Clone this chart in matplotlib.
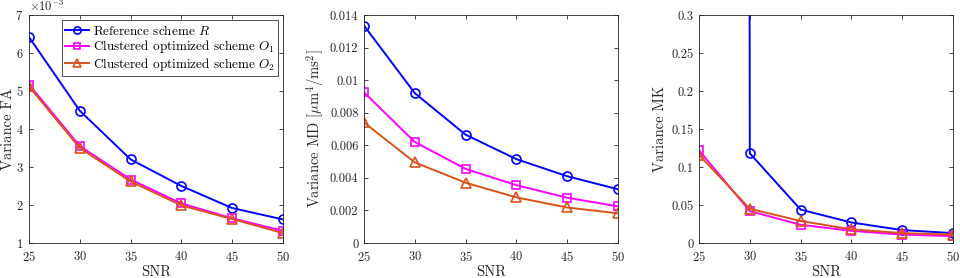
import matplotlib
matplotlib.use("Agg")
import matplotlib.pyplot as plt
from matplotlib.ticker import ScalarFormatter

plt.rcParams['font.family'] = 'serif'
plt.rcParams['font.serif'] = ['cmr10']
plt.rcParams['mathtext.fontset'] = 'cm'
plt.rcParams['axes.formatter.use_mathtext'] = True
plt.rcParams['axes.unicode_minus'] = False

snr = [25, 30, 35, 40, 45, 50]

# variance FA (x 1e-3)
fa_R = [6.42, 4.48, 3.20, 2.50, 1.92, 1.62]
fa_O1 = [5.17, 3.55, 2.67, 2.04, 1.65, 1.32]
fa_O2 = [5.12, 3.50, 2.62, 1.99, 1.63, 1.26]

# variance MD
md_R = [0.01335, 0.0092, 0.00665, 0.00515, 0.0041, 0.0033]
md_O1 = [0.00925, 0.0062, 0.00455, 0.00355, 0.00278, 0.00225]
md_O2 = [0.0074, 0.00495, 0.0037, 0.0028, 0.00218, 0.00182]

# variance MK (first R value far off the chart)
mk_R = [60.0, 0.118, 0.044, 0.027, 0.017, 0.013]
mk_O1 = [0.122, 0.042, 0.024, 0.016, 0.011, 0.009]
mk_O2 = [0.116, 0.045, 0.029, 0.018, 0.013, 0.011]

blue = (0, 0, 1)
mag = (1, 0, 1)
orng = (0.85, 0.325, 0.098)
grey = (0.15, 0.15, 0.15)

fs_tick = 9
fs_lab = 10.5

fig = plt.figure(figsize=(9.6, 2.78), dpi=100)
lefts = [29/960, 364/960, 699/960]
w = 254/960
b = 1 - 243/278
h = (243 - 15)/278
axs = [fig.add_axes([l, b, w, h]) for l in lefts]

def style(ax):
    ax.tick_params(direction='in', top=True, right=True, labelsize=fs_tick,
                   length=3, width=0.6, colors=grey, labelcolor=grey)
    ax.tick_params(axis='x', pad=5)
    ax.tick_params(axis='y', pad=4)
    for s in ax.spines.values():
        s.set_linewidth(0.6)
        s.set_color(grey)
    ax.set_xlim(25, 50)
    ax.set_xticks(snr)
    ax.set_xlabel('SNR', fontsize=fs_lab, labelpad=1, color=grey)

def draw(ax, r, o1, o2):
    ax.plot(snr, r, '-o', color=blue, lw=1.4, ms=6.5, mfc='none', mew=1.2,
            label=r'Reference scheme $R$')
    ax.plot(snr, o1, '-s', color=mag, lw=1.4, ms=5.5, mfc='none', mew=1.2,
            label=r'Clustered optimized scheme $O_1$')
    ax.plot(snr, o2, '-^', color=orng, lw=1.4, ms=6.5, mfc='none', mew=1.2,
            label=r'Clustered optimized scheme $O_2$')

ax = axs[0]
draw(ax, [v*1e-3 for v in fa_R], [v*1e-3 for v in fa_O1], [v*1e-3 for v in fa_O2])
style(ax)
ax.set_ylim(1e-3, 7e-3)
fmt = ScalarFormatter(useMathText=True)
fmt.set_powerlimits((-2, 2))
ax.yaxis.set_major_formatter(fmt)
ax.yaxis.get_offset_text().set_fontsize(fs_tick)
ax.set_ylabel('Variance FA', fontsize=fs_lab, labelpad=0, color=grey)
leg = ax.legend(loc='upper right', fontsize=9.5, frameon=True, fancybox=False,
                edgecolor='black', handlelength=1.8, borderpad=0.25,
                labelspacing=0.05, handletextpad=0.3, borderaxespad=0.4,
                markerscale=0.8)
leg.get_frame().set_linewidth(0.6)

ax = axs[1]
draw(ax, md_R, md_O1, md_O2)
style(ax)
ax.set_ylim(0, 0.014)
ax.set_yticks([0, 0.002, 0.004, 0.006, 0.008, 0.01, 0.012, 0.014])
ax.set_yticklabels(['0', '0.002', '0.004', '0.006', '0.008', '0.01', '0.012', '0.014'])
ax.set_ylabel(r'Variance MD $[\mu\mathrm{m}^4/\mathrm{ms}^2]$', fontsize=fs_lab,
              labelpad=3, color=grey)

ax = axs[2]
draw(ax, mk_R, mk_O1, mk_O2)
style(ax)
ax.set_ylim(0, 0.3)
ax.set_yticks([0, 0.05, 0.1, 0.15, 0.2, 0.25, 0.3])
ax.set_yticklabels(['0', '0.05', '0.1', '0.15', '0.2', '0.25', '0.3'])
ax.set_ylabel('Variance MK', fontsize=fs_lab, labelpad=3, color=grey)

fig.savefig('out.png', dpi=100)
